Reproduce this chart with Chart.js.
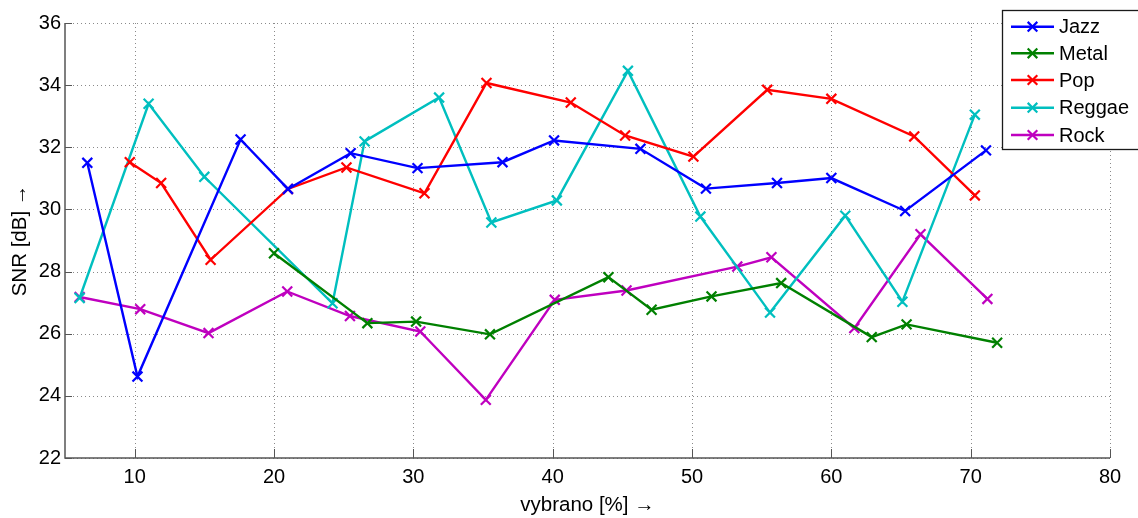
<!DOCTYPE html>
<html>
<head>
<meta charset="utf-8">
<script src="https://cdn.jsdelivr.net/npm/chart.js@4"></script>
<style>
  html, body { margin: 0; padding: 0; background: #fff; }
  #wrap { width: 1138px; height: 518px; position: relative; }
</style>
</head>
<body>
<div id="wrap"><canvas id="c" width="1138" height="518"></canvas></div>
<script>
// ---- data ----
const seriesNames = ['Jazz', 'Metal', 'Pop', 'Reggae', 'Rock'];
const jazzX   = [6.6, 10.2, 17.6, 21.0, 25.5, 30.3, 36.4, 40.1, 46.3, 51.0, 56.1, 60.0, 65.3, 71.1];
const jazzY   = [31.5, 24.62, 32.25, 30.66, 31.81, 31.33, 31.52, 32.22, 31.95, 30.67, 30.85, 31.01, 29.95, 31.9];
const metalX  = [20.0, 26.7, 30.2, 35.5, 44.0, 47.1, 51.4, 56.4, 62.9, 65.4, 71.9];
const metalY  = [28.59, 26.34, 26.39, 25.98, 27.82, 26.77, 27.2, 27.63, 25.89, 26.3, 25.71];
const popX    = [9.65, 11.9, 15.45, 21.0, 25.2, 30.8, 35.25, 41.3, 45.2, 50.1, 55.4, 60.0, 65.95, 70.3];
const popY    = [31.52, 30.85, 28.38, 30.66, 31.35, 30.52, 34.07, 33.44, 32.38, 31.7, 33.85, 33.56, 32.35, 30.45];
const reggaeX = [6.05, 11.0, 15.0, 24.2, 26.5, 31.85, 35.6, 40.3, 45.4, 50.6, 55.6, 61.0, 65.1, 70.3];
const reggaeY = [27.15, 33.4, 31.05, 26.98, 32.19, 33.6, 29.58, 30.29, 34.46, 29.77, 26.68, 29.8, 27.03, 33.05];
const rockX   = [6.05, 10.4, 15.3, 20.95, 25.45, 30.5, 35.2, 40.15, 45.3, 53.25, 55.7, 61.65, 66.4, 71.2];
const rockY   = [27.18, 26.79, 26.02, 27.36, 26.57, 26.07, 23.87, 27.09, 27.39, 28.16, 28.46, 26.18, 29.2, 27.12];
const xTicks = [10, 20, 30, 40, 50, 60, 70, 80];
const yTicks = [22, 24, 26, 28, 30, 32, 34, 36];
const xTitle = 'vybrano [%] \u2192';
const yTitle = 'SNR [dB] \u2192';

const colors = ['#0000ff', '#008000', '#ff0000', '#00bfbf', '#bf00bf'];
const FONT = '"Liberation Sans", Arial, Helvetica, sans-serif';

const xs = [jazzX, metalX, popX, reggaeX, rockX];
const ys = [jazzY, metalY, popY, reggaeY, rockY];
const datasets = seriesNames.map((name, i) => ({
  label: name,
  data: xs[i].map((x, k) => ({ x: x, y: ys[i][k] })),
  showLine: true,
  borderColor: colors[i],
  backgroundColor: colors[i],
  borderWidth: 2.4,
  pointStyle: 'crossRot',
  pointRadius: 7,
  pointBorderWidth: 2.2,
  pointHoverRadius: 7,
  tension: 0,
  fill: false
}));

const gridPlugin = {
  id: 'matlabGrid',
  beforeDatasetsDraw(chart) {
    const ctx = chart.ctx;
    const xs_ = chart.scales.x, ys_ = chart.scales.y;
    const a = chart.chartArea;
    ctx.save();
    ctx.lineWidth = 1;
    ctx.strokeStyle = '#8a8a8a';
    ctx.setLineDash([1, 3]);
    xTicks.forEach(v => {
      const px = Math.round(xs_.getPixelForValue(v)) + 0.5;
      ctx.beginPath(); ctx.moveTo(px, a.top); ctx.lineTo(px, a.bottom); ctx.stroke();
    });
    yTicks.forEach(v => {
      const py = Math.round(ys_.getPixelForValue(v)) + 0.5;
      ctx.beginPath(); ctx.moveTo(a.left, py); ctx.lineTo(a.right, py); ctx.stroke();
    });
    ctx.setLineDash([]);
    // axis lines
    ctx.strokeStyle = '#555555';
    ctx.lineWidth = 1.5;
    ctx.beginPath();
    ctx.moveTo(a.left, a.top); ctx.lineTo(a.left, a.bottom); ctx.lineTo(a.right, a.bottom);
    ctx.stroke();
    // inward ticks
    ctx.lineWidth = 1;
    xTicks.forEach(v => {
      const px = Math.round(xs_.getPixelForValue(v)) + 0.5;
      ctx.beginPath(); ctx.moveTo(px, a.bottom); ctx.lineTo(px, a.bottom - 9); ctx.stroke();
    });
    yTicks.forEach(v => {
      const py = Math.round(ys_.getPixelForValue(v)) + 0.5;
      ctx.beginPath(); ctx.moveTo(a.left, py); ctx.lineTo(a.left + 7, py); ctx.stroke();
    });
    ctx.restore();
  }
};

const legendPlugin = {
  id: 'matlabLegend',
  afterDraw(chart) {
    const ctx = chart.ctx;
    const bx = 1002.5, by = 10.5, bw = 150, bh = 139;
    ctx.save();
    ctx.fillStyle = '#ffffff';
    ctx.fillRect(bx, by, bw, bh);
    ctx.strokeStyle = '#1a1a1a';
    ctx.lineWidth = 1.3;
    ctx.strokeRect(bx, by, bw, bh);
    const rows = [26.7, 53.3, 80, 107.7, 135];
    seriesNames.forEach((name, i) => {
      const y = rows[i];
      ctx.strokeStyle = colors[i];
      ctx.lineWidth = 2.4;
      ctx.beginPath(); ctx.moveTo(1011, y); ctx.lineTo(1054, y); ctx.stroke();
      const cx = 1032.5, r = 4.8;
      ctx.lineWidth = 2.2;
      ctx.beginPath();
      ctx.moveTo(cx - r, y - r); ctx.lineTo(cx + r, y + r);
      ctx.moveTo(cx + r, y - r); ctx.lineTo(cx - r, y + r);
      ctx.stroke();
      ctx.fillStyle = '#000000';
      ctx.font = '20px ' + FONT;
      ctx.textBaseline = 'middle';
      ctx.textAlign = 'left';
      ctx.fillText(name, 1059, y + 1);
    });
    ctx.restore();
  }
};

new Chart(document.getElementById('c'), {
  type: 'scatter',
  data: { datasets: datasets },
  plugins: [gridPlugin, legendPlugin],
  options: {
    responsive: false,
    animation: false,
    events: [],
    layout: { padding: { left: 0, top: 23, right: 28, bottom: 0 } },
    plugins: { legend: { display: false }, tooltip: { enabled: false } },
    scales: {
      x: {
        type: 'linear',
        min: 5, max: 80,
        afterBuildTicks: s => { s.ticks = xTicks.map(v => ({ value: v })); },
        afterFit: s => { s.height = 60; },
        grid: { display: false, drawTicks: false },
        border: { display: false },
        ticks: { color: '#000', font: { family: FONT, size: 20 }, padding: 7, maxRotation: 0 },
        title: { display: true, text: xTitle, color: '#000', font: { family: FONT, size: 20.5 }, padding: { top: 0, bottom: 0 } }
      },
      y: {
        type: 'linear',
        min: 22, max: 36,
        afterBuildTicks: s => { s.ticks = yTicks.map(v => ({ value: v })); },
        afterFit: s => { s.width = 65; },
        grid: { display: false, drawTicks: false },
        border: { display: false },
        ticks: { color: '#000', font: { family: FONT, size: 20 }, padding: 4 },
        title: { display: true, text: yTitle, color: '#000', font: { family: FONT, size: 20.5 }, padding: { top: 8, bottom: 0 } }
      }
    }
  }
});
</script>
</body>
</html>
